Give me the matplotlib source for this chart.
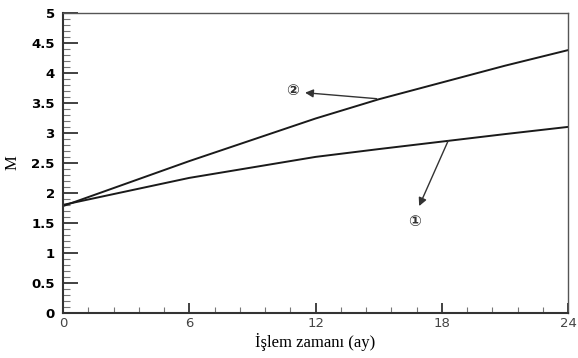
import matplotlib.pyplot as plt
from matplotlib.ticker import MultipleLocator

# İşlem zamanı (ay) ve M değerleri
ay = [0, 6, 12, 15, 21, 24]
seri1 = [1.80, 2.25, 2.60, 2.73, 2.98, 3.10]
seri2 = [1.78, 2.53, 3.24, 3.56, 4.12, 4.38]

fig = plt.figure(figsize=(5.78, 3.58), dpi=100)
ax = fig.add_axes([0.109, 0.126, 0.874, 0.838])

ax.plot(ay, seri1, color='#1a1a1a', lw=1.4)
ax.plot(ay, seri2, color='#1a1a1a', lw=1.4)

ax.set_xlim(0, 24)
ax.set_ylim(0, 5)
ax.xaxis.set_major_locator(MultipleLocator(6))
ax.xaxis.set_minor_locator(MultipleLocator(1.2))
ax.yaxis.set_minor_locator(MultipleLocator(0.1))
ax.set_yticks([0, 0.5, 1, 1.5, 2, 2.5, 3, 3.5, 4, 4.5, 5])
ax.set_yticklabels(['0', '0.5', '1', '1.5', '2', '2.5', '3', '3.5', '4', '4.5', '5'])

ax.tick_params(axis='y', which='major', direction='in', length=11, width=1.3, color='#333333',
               labelsize=9.5, pad=6)
ax.tick_params(axis='y', which='minor', direction='in', length=5, width=0.8, color='#777777')
ax.tick_params(axis='x', which='major', direction='in', length=7, width=1.3, color='#333333',
               labelsize=9.5, pad=3)
ax.tick_params(axis='x', which='minor', direction='in', length=4, width=0.8, color='#777777')
for lab in ax.get_yticklabels():
    lab.set_fontweight('bold')
for lab in ax.get_xticklabels():
    lab.set_color('#444444')

for side, sp in ax.spines.items():
    sp.set_color('#555555')
    sp.set_linewidth(1.0)
ax.spines['bottom'].set_linewidth(1.5)
ax.spines['bottom'].set_color('#333333')
ax.spines['left'].set_linewidth(1.5)
ax.spines['left'].set_color('#333333')

ax.set_ylabel('M', family='Liberation Serif', fontsize=12, labelpad=8)
ax.set_xlabel('İşlem zamanı (ay)', family='Liberation Serif', fontsize=12, labelpad=2)

# eğri numaraları ve oklar
ax.text(10.9, 3.70, '②', ha='center', va='center', fontsize=11, fontweight='bold',
        family=['DejaVu Sans', 'Noto Sans CJK SC'], color='#333333')
ax.annotate('', xy=(11.5, 3.67), xytext=(14.9, 3.57),
            arrowprops=dict(arrowstyle='-|>', color='#333333', lw=1.0, shrinkA=0, shrinkB=0,
                            mutation_scale=12))
ax.text(16.68, 1.52, '①', ha='center', va='center', fontsize=11, fontweight='bold',
        family=['DejaVu Sans', 'Noto Sans CJK SC'], color='#333333')
ax.annotate('', xy=(16.92, 1.78), xytext=(18.3, 2.87),
            arrowprops=dict(arrowstyle='-|>', color='#333333', lw=1.0, shrinkA=0, shrinkB=0,
                            mutation_scale=12))

fig.savefig('out.png', dpi=100)
